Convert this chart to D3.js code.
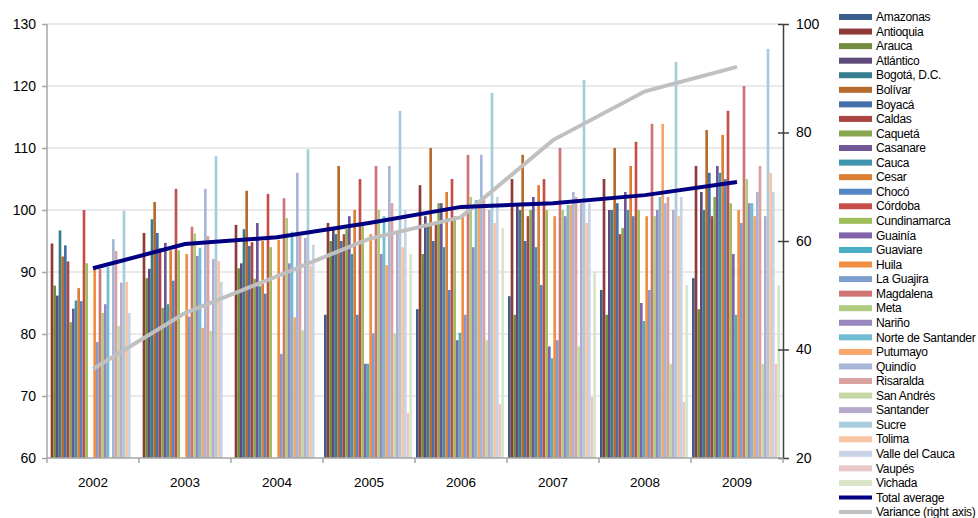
<!DOCTYPE html>
<html>
<head>
<meta charset="utf-8">
<script src="https://cdn.jsdelivr.net/npm/d3@7"></script>
<style>
  body { margin: 0; background: #fff; }
  svg { font-family: "Liberation Sans", Arial, sans-serif; }
</style>
</head>
<body>
<div id="chart"></div>
<script>
// departments (series) and years (categories)
let departments = ["Amazonas", "Antioquia", "Arauca", "Atlántico", "Bogotá, D.C.", "Bolívar", "Boyacá",
    "Caldas", "Caquetá", "Casanare", "Cauca", "Cesar", "Chocó", "Córdoba", "Cundinamarca", "Guainía",
    "Guaviare", "Huila", "La Guajira", "Magdalena", "Meta", "Nariño", "Norte de Santander", "Putumayo",
    "Quindío", "Risaralda", "San Andrés", "Santander", "Sucre", "Tolima", "Valle del Cauca", "Vaupés", "Vichada"];

let years = ["2002", "2003", "2004", "2005", "2006", "2007", "2008", "2009"];

// one value per department, same order as above (null = no bar)
let y2002 = [null, 94.6, 87.8, 86.2, 96.7, 92.5, 94.3, 91.7, 81.9, 84.1, 85.4, 87.4, 85.3, 100.0, 91.4, null, null,
    90.5, 78.7, 90.5, 83.4, 84.8, 90.8, null, 95.3, 93.4, 81.3, 88.3, 99.9, 88.4, 83.4, null, null];
let y2003 = [null, 96.3, 89.0, 90.5, 98.5, 101.3, 96.3, 93.8, 84.2, 94.7, 84.8, 93.5, 88.6, 103.4, 93.5, null, null,
    92.9, 82.8, 97.3, 96.2, 92.6, 93.9, 81.0, 103.4, 95.8, 80.5, 92.1, 108.7, 91.8, 88.4, null, null];
let y2004 = [null, 97.6, 90.6, 91.4, 96.9, 103.1, 94.2, 94.8, 88.9, 97.9, 87.7, 95.0, 86.5, 102.6, 94.0, null, null,
    95.2, 76.8, 101.9, 98.7, 91.4, 96.5, 82.7, 106.0, 95.8, 80.6, 95.5, 109.8, 91.0, 94.4, null, null];
let y2005 = [83.1, 97.9, 95.0, 96.8, 96.1, 107.1, 95.0, 96.1, 96.9, 99.0, 92.9, 100.0, 83.1, 105.0, 97.4, 75.2, 75.2,
    96.1, 80.1, 107.1, 100.0, 92.9, 99.0, 91.1, 107.1, 101.1, 80.1, 96.3, 116.0, 94.0, 100.0, 67.3, 92.9];
let y2006 = [84.0, 104.0, 92.9, 99.0, 97.4, 110.0, 95.0, 98.0, 101.1, 101.1, 94.0, 102.9, 87.1, 105.0, 99.0, 79.0, 80.2,
    99.0, 83.1, 108.9, 102.1, 94.0, 101.6, 101.6, 108.9, 101.6, 79.0, 100.0, 118.9, 97.9, 102.1, 68.7, 97.1];
let y2007 = [86.1, 105.0, 83.1, 101.1, 100.0, 108.9, 95.0, 99.0, 100.0, 102.1, 94.0, 104.0, 87.9, 105.0, 100.0, 78.0, 76.1,
    99.0, 79.0, 110.0, 100.0, 99.0, 100.8, 100.8, 102.9, 102.1, 78.0, 101.1, 121.0, 97.9, 101.1, 69.8, 90.0];
let y2008 = [87.1, 105.0, 83.1, 100.0, 100.0, 110.0, 101.1, 96.1, 97.1, 102.9, 100.0, 107.1, 99.0, 111.0, 100.0, 85.0, 82.1,
    99.0, 87.1, 113.9, 99.0, 100.0, 102.1, 113.9, 101.1, 102.1, 75.2, 100.0, 123.9, 99.0, 102.1, 69.0, 87.9];
let y2009 = [89.0, 107.1, 84.0, 102.9, 100.0, 112.9, 106.0, 99.0, 102.1, 107.1, 106.0, 112.1, 105.0, 116.0, 101.1, 92.9, 83.1,
    100.0, 97.9, 120.0, 105.0, 101.1, 101.1, 99.0, 102.9, 107.1, 75.2, 99.0, 126.0, 106.0, 102.9, 75.2, 87.9];

let totalAverage = [90.6, 94.5, 95.6, 97.9, 100.5, 101.1, 102.4, 104.5];
let variance = [36.4, 46.7, 53.5, 60.4, 64.4, 78.6, 87.6, 92.1]; // right axis

let leftTicks = [60, 70, 80, 90, 100, 110, 120, 130];
let rightTicks = [20, 40, 60, 80, 100];

// excel-ish palette, one per department
let colors = ["#3C5E8C", "#8E3A39", "#738D3F", "#5E4B7C", "#367D8F", "#B76B2C", "#4470A9", "#A94542",
    "#89A650", "#6F5696", "#3D95AC", "#DA7F33", "#5586C4", "#C54E4B", "#9FBE5C", "#8264AC", "#4AAEC7",
    "#F08F40", "#7F9ED0", "#D07472", "#B0CA7F", "#9A86BE", "#70BCD3", "#F7A66B", "#A6B6D8", "#D9A19F",
    "#C5D7A3", "#B8AACA", "#A7CCDD", "#F9C4A4", "#C9D3E6", "#E6C7C6", "#DAE4C8"];

let byYear = [y2002, y2003, y2004, y2005, y2006, y2007, y2008, y2009];

let width = 978, height = 518;
let plot = {left: 47, right: 783, top: 24, bottom: 458};

let svg = d3.select("#chart").append("svg")
    .attr("width", width)
    .attr("height", height);

// scales
let x0 = d3.scaleBand().domain(years).range([plot.left, plot.right]);
let x1 = d3.scaleBand().domain(departments).range([1, x0.bandwidth() - 3]);
let yLeft = d3.scaleLinear().domain([60, 130]).range([plot.bottom, plot.top]);
let yRight = d3.scaleLinear().domain([20, 100]).range([plot.bottom, plot.top]);

// gridlines
svg.append("g")
    .selectAll("line")
    .data(leftTicks.filter(d => d > 60))
    .join("line")
    .attr("x1", plot.left).attr("x2", plot.right)
    .attr("y1", d => yLeft(d)).attr("y2", d => yLeft(d))
    .attr("stroke", "#e3e3e3")
    .attr("stroke-width", 1.5);

// bars
let bars = [];
byYear.forEach((vals, yi) => {
    vals.forEach((v, di) => {
        if (v != null) bars.push({year: years[yi], dept: departments[di], value: v, color: colors[di]});
    });
});

svg.append("g")
    .selectAll("rect")
    .data(bars)
    .join("rect")
    .attr("x", d => x0(d.year) + x1(d.dept))
    .attr("y", d => yLeft(d.value))
    .attr("width", x1.bandwidth())
    .attr("height", d => yLeft(60) - yLeft(d.value))
    .attr("fill", d => d.color);

// lines
let line = d3.line().x((d, i) => x0(years[i]) + x0.bandwidth() / 2);

svg.append("path")
    .attr("d", line.y(d => yRight(d))(variance))
    .attr("fill", "none")
    .attr("stroke", "#c0c0c0")
    .attr("stroke-width", 4);

svg.append("path")
    .attr("d", line.y(d => yLeft(d))(totalAverage))
    .attr("fill", "none")
    .attr("stroke", "#000080")
    .attr("stroke-width", 4);

// left axis
let leftAxis = svg.append("g")
    .attr("transform", "translate(" + plot.left + ",0)")
    .call(d3.axisLeft(yLeft).tickValues(leftTicks).tickSize(5).tickPadding(6));
leftAxis.select(".domain").attr("stroke", "#a6a6a6").attr("stroke-width", 1.5).attr("d", "M0," + plot.top + "V" + plot.bottom);
leftAxis.selectAll(".tick line").attr("stroke", "#a6a6a6").attr("stroke-width", 1.5);
leftAxis.selectAll("text").attr("font-size", 14).attr("fill", "#000").attr("font-family", "Liberation Sans, Arial");

// right axis
let rightAxis = svg.append("g")
    .attr("transform", "translate(" + plot.right + ",0)")
    .call(d3.axisRight(yRight).tickValues(rightTicks).tickSizeInner(6).tickSizeOuter(0).tickPadding(7));
rightAxis.select(".domain").attr("stroke", "#404040").attr("stroke-width", 1.5);
rightAxis.selectAll(".tick line").attr("stroke", "#404040").attr("stroke-width", 1.5).attr("x1", -5);
rightAxis.selectAll("text").attr("font-size", 14).attr("fill", "#000").attr("font-family", "Liberation Sans, Arial");

// bottom axis
let bottom = svg.append("g");
bottom.append("line")
    .attr("x1", plot.left).attr("x2", plot.right)
    .attr("y1", plot.bottom).attr("y2", plot.bottom)
    .attr("stroke", "#a6a6a6").attr("stroke-width", 1.5);
bottom.selectAll(".cat-tick")
    .data(years.map(y => x0(y)).concat([plot.right]))
    .join("line")
    .attr("x1", d => d).attr("x2", d => d)
    .attr("y1", plot.bottom).attr("y2", plot.bottom + 5)
    .attr("stroke", "#a6a6a6").attr("stroke-width", 1.5);
bottom.selectAll("text")
    .data(years)
    .join("text")
    .attr("x", d => x0(d) + x0.bandwidth() / 2)
    .attr("y", 487)
    .attr("text-anchor", "middle")
    .attr("font-size", 13.5)
    .text(d => d);

// legend
let legendItems = departments.map((d, i) => ({name: d, color: colors[i], type: "bar"}))
    .concat([{name: "Total average", color: "#000080", type: "line"},
             {name: "Variance (right axis)", color: "#c0c0c0", type: "line"}]);

let legend = svg.append("g").attr("transform", "translate(839,17)");
let item = legend.selectAll("g")
    .data(legendItems)
    .join("g")
    .attr("transform", (d, i) => "translate(0," + (i * 14.56) + ")");

item.filter(d => d.type == "bar").append("rect")
    .attr("x", 0).attr("y", -3)
    .attr("width", 33).attr("height", 6)
    .attr("fill", d => d.color);

item.filter(d => d.type == "line").append("line")
    .attr("x1", 0).attr("x2", 33)
    .attr("y1", 0).attr("y2", 0)
    .attr("stroke", d => d.color)
    .attr("stroke-width", 4);

item.append("text")
    .attr("x", 37)
    .attr("dy", "0.35em")
    .attr("font-size", 12)
    .attr("letter-spacing", -0.3)
    .text(d => d.name);
</script>
</body>
</html>
